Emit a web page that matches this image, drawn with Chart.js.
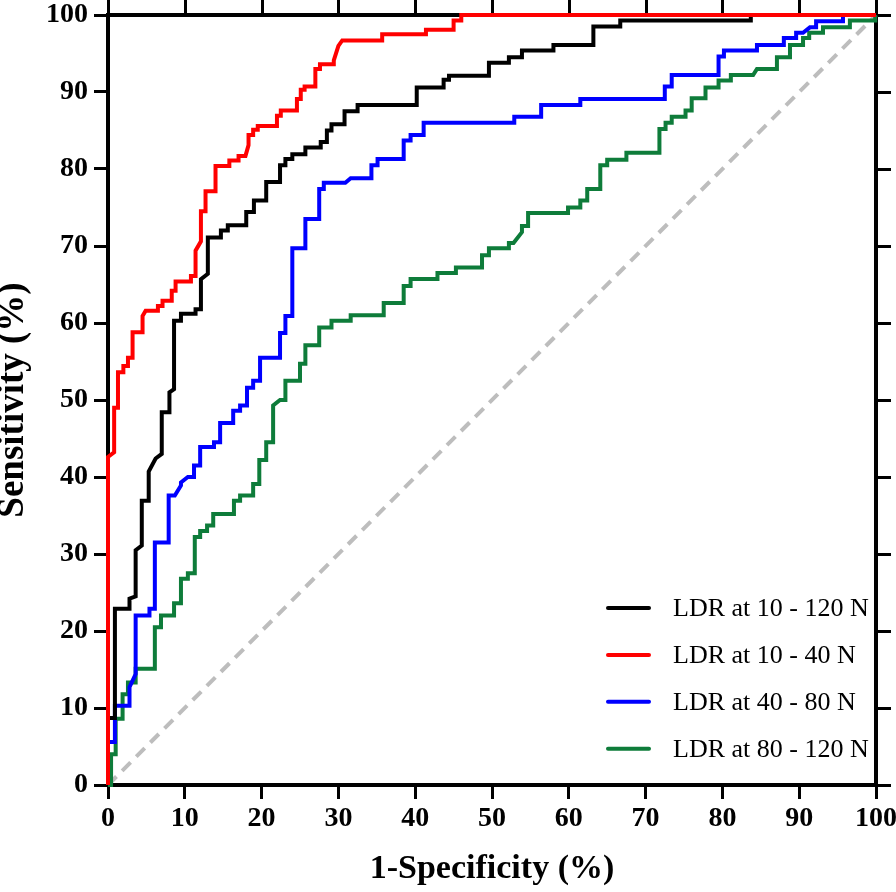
<!DOCTYPE html>
<html><head><meta charset="utf-8">
<script src="https://cdn.jsdelivr.net/npm/chart.js@4/dist/chart.umd.min.js"></script>
<style>html,body{margin:0;padding:0;background:#fff}#wrap{width:896px;height:892px;position:relative}</style>
</head><body><div id="wrap"><canvas id="c" width="896" height="892"></canvas></div>
<script>
// ---- data (x = 1-Specificity %, y = Sensitivity %) ----
const tickValues = [0,10,20,30,40,50,60,70,80,90,100];
const seriesLabels = ["LDR at 10 - 120 N","LDR at 10 - 40 N","LDR at 40 - 80 N","LDR at 80 - 120 N"];
const seriesColors = ["#000000","#ff0000","#0000ff","#0e7c3a"];

const roc10to120 = [[0,0],[0,8.7],[0.9,8.7],[0.9,22.9],[2.8,22.9],[2.8,24.2],[3.6,24.5],[3.6,30.5],[4.4,31.1],[4.4,36.9],[5.3,36.9],[5.3,40.7],[6.2,42.4],[7.0,43.0],[7.0,48.4],[8.0,48.4],[8.0,51.0],[8.6,51.4],[8.6,60.3],[9.5,60.3],[9.5,61.2],[11.4,61.2],[11.4,61.8],[12.1,61.8],[12.1,65.7],[13.0,66.4],[13.0,71.1],[14.7,71.1],[14.7,72.0],[15.6,72.0],[15.6,72.7],[18.0,72.7],[18.0,74.4],[19.0,74.4],[19.0,75.9],[20.6,75.9],[20.6,78.3],[22.4,78.3],[22.4,80.5],[23.1,80.5],[23.1,81.3],[24.0,81.3],[24.0,81.9],[25.7,81.9],[25.7,82.8],[27.7,82.8],[27.7,83.5],[28.5,83.5],[28.5,85.0],[29.1,85.0],[29.1,85.8],[30.8,85.8],[30.8,87.5],[32.5,87.5],[32.5,88.3],[40.2,88.3],[40.2,90.6],[43.7,90.6],[43.7,91.6],[44.4,91.6],[44.4,92.1],[49.6,92.1],[49.6,93.8],[52.2,93.8],[52.2,94.5],[53.9,94.5],[53.9,95.4],[58.0,95.4],[58.0,96.1],[63.2,96.1],[63.2,98.5],[66.7,98.5],[66.7,99.3],[83.7,99.3],[83.7,100],[100,100]];

const roc10to40 = [[0,0],[0,42.6],[0.8,43.2],[0.8,49.0],[1.3,49.0],[1.3,53.6],[2.0,53.6],[2.0,54.4],[2.6,54.4],[2.6,55.5],[3.2,55.5],[3.2,58.8],[4.5,58.8],[4.5,60.9],[4.9,61.6],[6.5,61.6],[6.5,62.2],[7.1,62.2],[7.1,62.9],[8.3,62.9],[8.3,64.2],[8.8,64.2],[8.8,65.4],[10.8,65.4],[10.8,66.1],[11.4,66.1],[11.4,69.4],[12.1,70.6],[12.1,74.5],[12.7,74.5],[12.7,77.1],[14.0,77.1],[14.0,80.4],[15.8,80.4],[15.8,81.1],[17.0,81.1],[17.0,81.7],[17.9,81.7],[18.3,83.1],[18.3,84.4],[18.9,84.4],[18.9,85.1],[19.5,85.1],[19.5,85.6],[22.0,85.6],[22.0,86.9],[22.5,86.9],[22.5,87.6],[24.6,87.6],[24.6,89.1],[25.1,89.1],[25.1,90.3],[25.6,90.3],[25.6,90.7],[27.0,90.7],[27.0,93.0],[27.6,93.0],[27.6,93.6],[29.4,93.6],[29.4,94.1],[30.0,96.0],[30.5,96.7],[35.7,96.7],[35.7,97.5],[41.4,97.5],[41.4,98.1],[45.0,98.1],[45.0,99.3],[46.0,99.3],[46.0,100],[100,100]];

const roc40to80 = [[0,0],[0,5.6],[0.9,5.6],[0.9,10.3],[2.8,10.3],[2.8,12.7],[3.6,14.4],[3.6,22.0],[5.4,22.0],[5.4,22.9],[6.1,22.9],[6.1,31.5],[7.9,31.5],[7.9,37.6],[8.7,37.6],[9.5,38.9],[9.5,39.3],[10.4,40.0],[11.2,40.0],[11.2,41.5],[12.0,41.5],[12.0,43.9],[13.8,43.9],[13.8,44.5],[14.6,44.5],[14.6,47.0],[16.3,47.0],[16.3,48.6],[17.2,48.6],[17.2,49.3],[18.1,49.3],[18.1,51.6],[18.9,51.6],[18.9,52.5],[19.8,52.5],[19.8,55.5],[22.4,55.5],[22.4,58.7],[23.1,58.7],[23.1,60.9],[24.0,60.9],[24.0,69.7],[25.7,69.7],[25.7,73.5],[27.5,73.5],[27.5,77.4],[28.1,77.4],[28.1,78.2],[30.9,78.2],[31.6,78.8],[34.3,78.8],[34.3,80.5],[35.1,80.5],[35.1,81.3],[38.5,81.3],[38.5,83.7],[39.4,83.7],[39.4,84.4],[41.1,84.4],[41.1,86.0],[52.9,86.0],[52.9,86.8],[56.4,86.8],[56.4,88.3],[61.5,88.3],[61.5,89.1],[72.5,89.1],[72.5,90.7],[73.4,90.7],[73.4,92.2],[79.5,92.2],[79.5,94.6],[80.2,94.6],[80.2,95.4],[84.5,95.4],[84.5,96.1],[88.0,96.1],[88.0,97.0],[89.6,97.0],[89.6,97.7],[90.5,97.7],[91.4,98.4],[92.2,98.4],[92.2,99.2],[95.7,99.2],[95.7,100],[100,100]];

const roc80to120 = [[0,0],[0.4,0],[0.4,4.0],[1.0,4.0],[1.0,8.6],[1.9,8.6],[1.9,11.8],[2.6,11.8],[2.6,13.3],[3.6,13.3],[3.6,15.1],[6.1,15.1],[6.1,20.5],[6.9,20.5],[6.9,22.0],[8.6,22.0],[8.6,23.6],[9.5,23.6],[9.5,26.8],[10.4,26.8],[10.4,27.5],[11.3,27.5],[11.3,32.2],[12.0,32.2],[12.0,33.0],[12.9,33.0],[12.9,33.7],[13.7,33.7],[13.7,35.2],[16.4,35.2],[16.4,36.9],[17.2,36.9],[17.2,37.6],[18.9,37.6],[18.9,39.1],[19.7,39.1],[19.7,42.2],[20.6,42.2],[20.6,44.5],[21.5,44.5],[21.5,49.3],[22.4,50.0],[23.1,50.0],[23.1,52.5],[25.0,52.5],[25.0,54.7],[25.7,54.7],[25.7,57.1],[27.5,57.1],[27.5,59.4],[29.1,59.4],[29.1,60.3],[31.6,60.3],[31.6,61.0],[35.9,61.0],[35.9,62.6],[38.5,62.6],[38.5,64.8],[39.4,64.8],[39.4,65.7],[42.9,65.7],[42.9,66.5],[45.3,66.5],[45.3,67.2],[48.7,67.2],[48.7,68.8],[49.6,68.8],[49.6,69.7],[52.2,69.7],[52.2,70.4],[52.8,70.4],[53.9,71.8],[53.9,72.6],[54.7,72.6],[54.7,74.3],[59.9,74.3],[59.9,75.0],[61.5,75.0],[61.5,75.9],[62.4,75.9],[62.4,77.4],[64.1,77.4],[64.1,80.5],[65.0,80.5],[65.0,81.2],[67.5,81.2],[67.5,82.1],[71.8,82.1],[71.8,85.2],[72.6,85.2],[72.6,86.0],[73.4,86.0],[73.4,86.8],[75.2,86.8],[75.2,87.6],[76.0,87.6],[76.0,89.2],[77.8,89.2],[77.8,90.6],[79.5,90.6],[79.5,91.5],[81.1,91.5],[81.1,92.2],[84.0,92.2],[84.5,93.0],[87.1,93.0],[87.1,94.5],[88.8,94.5],[88.8,96.1],[90.5,96.1],[90.5,97.0],[91.3,97.0],[91.3,97.7],[93.1,97.7],[93.1,98.4],[96.6,98.4],[96.6,99.3],[99.9,99.3],[99.9,100],[100,100]];

const referenceLine = [[0,0],[100,100]];

const seriesData = [roc10to120, roc10to40, roc40to80, roc80to120];
const drawOrder = [2, 1, 3, 4]; // red on top

// ---- chart ----
const SERIF = '"Liberation Serif","Times New Roman",serif';
const toPts = arr => arr.map(p => ({x: p[0], y: p[1]}));

const datasets = seriesData.map((d, i) => ({
  label: seriesLabels[i],
  data: toPts(d),
  showLine: true,
  borderColor: seriesColors[i],
  backgroundColor: seriesColors[i],
  borderWidth: 4,
  pointRadius: 0,
  tension: 0,
  fill: false,
  clip: false,
  borderJoinStyle: 'miter',
  order: drawOrder[i]
}));
datasets.push({
  label: 'reference',
  data: toPts(referenceLine),
  showLine: true,
  borderColor: '#bdbdbd',
  borderWidth: 4,
  borderDash: [12, 8],
  pointRadius: 0,
  fill: false,
  clip: false,
  order: 10
});

const framePlugin = {
  id: 'frame',
  beforeDatasetsDraw(chart) {
    const {ctx, chartArea: a, scales} = chart;
    ctx.save();
    ctx.strokeStyle = '#000';
    ctx.lineWidth = 4;
    ctx.beginPath();
    ctx.moveTo(a.left - 2, a.top);
    ctx.lineTo(a.right, a.top);
    ctx.lineTo(a.right, a.bottom + 2);
    ctx.stroke();
    ctx.lineWidth = 3;
    ctx.beginPath();
    tickValues.forEach(v => {
      const x = Math.round(scales.x.getPixelForValue(v)) + 0.5;
      ctx.moveTo(x, a.top); ctx.lineTo(x, a.top - 15);
      const y = Math.round(scales.y.getPixelForValue(v)) + 0.5;
      ctx.moveTo(a.right, y); ctx.lineTo(a.right + 15, y);
    });
    ctx.stroke();
    ctx.restore();
  }
};

const legendPlugin = {
  id: 'customLegend',
  afterDatasetsDraw(chart) {
    const {ctx, chartArea: a} = chart;
    ctx.save();
    ctx.font = '26px ' + SERIF;
    ctx.textBaseline = 'middle';
    ctx.textAlign = 'left';
    ctx.fillStyle = '#000';
    seriesLabels.forEach((lab, i) => {
      const y = a.bottom - 177 + i * 46.9;
      ctx.strokeStyle = seriesColors[i];
      ctx.lineWidth = 4;
      ctx.lineCap = 'round';
      ctx.beginPath();
      ctx.moveTo(a.right - 268, y);
      ctx.lineTo(a.right - 227, y);
      ctx.stroke();
      ctx.fillText(lab, a.right - 203, y + 1);
    });
    ctx.restore();
  }
};

new Chart(document.getElementById('c'), {
  type: 'scatter',
  data: { datasets },
  options: {
    responsive: false,
    animation: false,
    devicePixelRatio: 1,
    layout: { padding: { top: 15, right: 20, left: 0, bottom: 0 } },
    plugins: { legend: { display: false }, tooltip: { enabled: false } },
    scales: {
      x: {
        type: 'linear', min: 0, max: 100,
        afterBuildTicks: s => { s.ticks = tickValues.map(v => ({value: v})); },
        ticks: { font: { family: SERIF, size: 28, weight: 'bold', lineHeight: 1 }, color: '#000', padding: 6, maxRotation: 0, autoSkip: false },
        grid: { drawOnChartArea: false, tickLength: 14, tickWidth: 3, tickColor: '#000' },
        border: { display: true, width: 4, color: '#000' },
        title: { display: true, text: '1-Specificity (%)', color: '#000',
                 font: { family: SERIF, size: 34, weight: 'bold', lineHeight: 1 }, padding: { top: 0, bottom: 6 } },
        afterFit: s => { s.height = 107; s.paddingLeft = 0; s.paddingRight = 0; }
      },
      y: {
        type: 'linear', min: 0, max: 100,
        afterBuildTicks: s => { s.ticks = tickValues.map(v => ({value: v})); },
        ticks: { font: { family: SERIF, size: 28, weight: 'bold', lineHeight: 1 }, color: '#000', padding: 6, autoSkip: false },
        grid: { drawOnChartArea: false, tickLength: 14, tickWidth: 3, tickColor: '#000' },
        border: { display: true, width: 4, color: '#000' },
        title: { display: true, text: 'Sensitivity (%)', color: '#000',
                 font: { family: SERIF, size: 37, weight: 'bold', lineHeight: 0.72 }, padding: { top: 0, bottom: 0 } },
        afterFit: s => { s.width = 108; s.paddingTop = 0; s.paddingBottom = 0; }
      }
    }
  },
  plugins: [framePlugin, legendPlugin]
});
</script>
</body></html>
